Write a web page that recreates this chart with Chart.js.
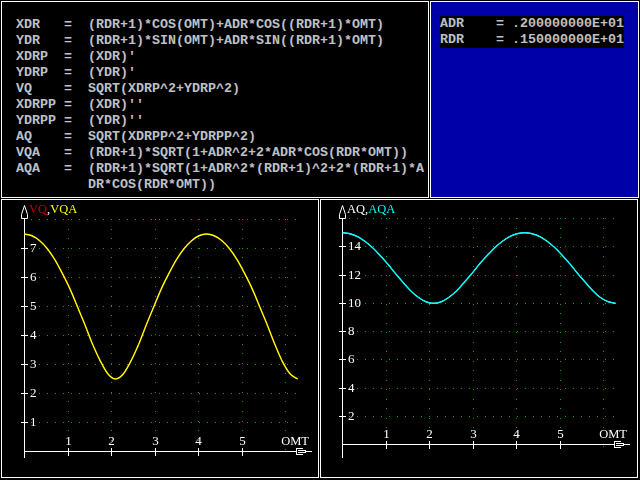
<!DOCTYPE html>
<html><head><meta charset="utf-8">
<script src="https://cdn.jsdelivr.net/npm/chart.js@4/dist/chart.umd.min.js"></script>
<style>
html,body{margin:0;padding:0;background:#000;width:640px;height:480px;overflow:hidden}
.box{position:absolute;box-sizing:border-box;border:1px solid #fff}
.txt{position:absolute;font:bold 13.333px "Liberation Mono",monospace;line-height:16px;color:#c0c0c0;white-space:pre;margin:0}
canvas{position:absolute;left:0;top:0}
</style></head><body>
<div class="box" style="left:1px;top:1px;width:428px;height:197px;background:#000"></div>
<div class="box" style="left:430px;top:1px;width:209px;height:197px;background:#0000a8"></div>
<div class="box" style="left:1px;top:199px;width:318px;height:279px;background:#000"></div>
<div class="box" style="left:320px;top:199px;width:318px;height:279px;background:#000"></div>
<pre class="txt" style="left:16px;top:17px">XDR   =  (RDR+1)*COS(OMT)+ADR*COS((RDR+1)*OMT)
YDR   =  (RDR+1)*SIN(OMT)+ADR*SIN((RDR+1)*OMT)
XDRP  =  (XDR)'
YDRP  =  (YDR)'
VQ    =  SQRT(XDRP^2+YDRP^2)
XDRPP =  (XDR)''
YDRPP =  (YDR)''
AQ    =  SQRT(XDRPP^2+YDRPP^2)
VQA   =  (RDR+1)*SQRT(1+ADR^2+2*ADR*COS(RDR*OMT))
AQA   =  (RDR+1)*SQRT(1+ADR^2*(RDR+1)^2+2*(RDR+1)*A
         DR*COS(RDR*OMT))</pre>
<pre class="txt" style="left:440px;top:16px;background:#000">ADR    = .200000000E+01
RDR    = .150000000E+01</pre>
<canvas id="cv" width="640" height="480"></canvas>
<canvas id="ca" width="640" height="480"></canvas>
<script>
// OMT sample positions (0 .. 2*pi)
const omt = [0, 0.17, 0.35, 0.52, 0.70, 0.87, 1.05, 1.22, 1.40, 1.57, 1.75, 1.92, 2.09, 2.27, 2.44, 2.62, 2.79, 2.97, 3.14,
             3.32, 3.49, 3.67, 3.84, 4.01, 4.19, 4.36, 4.54, 4.71, 4.89, 5.06, 5.24, 5.41, 5.59, 5.76, 5.93, 6.11, 6.28];
const vq  = [7.50, 7.44, 7.27, 7.00, 6.61, 6.14, 5.59, 4.98, 4.33, 3.68, 3.10, 2.67, 2.50, 2.67, 3.10, 3.68, 4.33, 4.98, 5.59,
             6.14, 6.61, 7.00, 7.27, 7.44, 7.50, 7.44, 7.27, 7.00, 6.61, 6.14, 5.59, 4.98, 4.33, 3.68, 3.10, 2.67, 2.50];
const vqa = [7.50, 7.44, 7.27, 7.00, 6.61, 6.14, 5.59, 4.98, 4.33, 3.68, 3.10, 2.67, 2.50, 2.67, 3.10, 3.68, 4.33, 4.98, 5.59,
             6.14, 6.61, 7.00, 7.27, 7.44, 7.50, 7.44, 7.27, 7.00, 6.61, 6.14, 5.59, 4.98, 4.33, 3.68, 3.10, 2.67, 2.50];
const aq  = [15.00, 14.93, 14.72, 14.38, 13.92, 13.37, 12.75, 12.10, 11.46, 10.88, 10.41, 10.11, 10.00, 10.11, 10.41, 10.88, 11.46, 12.10, 12.75,
             13.37, 13.92, 14.38, 14.72, 14.93, 15.00, 14.93, 14.72, 14.38, 13.92, 13.37, 12.75, 12.10, 11.46, 10.88, 10.41, 10.11, 10.00];
const aqa = [15.00, 14.93, 14.72, 14.38, 13.92, 13.37, 12.75, 12.10, 11.46, 10.88, 10.41, 10.11, 10.00, 10.11, 10.41, 10.88, 11.46, 12.10, 12.75,
             13.37, 13.92, 14.38, 14.72, 14.93, 15.00, 14.93, 14.72, 14.38, 13.92, 13.37, 12.75, 12.10, 11.46, 10.88, 10.41, 10.11, 10.00];
const xTicks = [1, 2, 3, 4, 5];
const xGrid = [1, 2, 3, 4, 5, 6];
const vTicks = [1, 2, 3, 4, 5, 6, 7];
const vGrid = [1, 2, 3, 4, 5, 6, 7, 8];
const aTicks = [2, 4, 6, 8, 10, 12, 14];
const aGrid = [2, 4, 6, 8, 10, 12, 14, 16];
const xName = 'OMT';

const axesPlugin = {
  id: 'oldAxes',
  beforeDatasetsDraw(chart, args, o) {
    const ctx = chart.ctx, xs = chart.scales.x, ys = chart.scales.y, ca = chart.chartArea;
    const X0 = Math.floor(xs.getPixelForValue(0)), Y0 = Math.floor(ys.getPixelForValue(0));
    ctx.save();
    // dotted green grid
    ctx.fillStyle = '#00a800';
    const xEnd = xs.getPixelForValue(omt[omt.length - 1]);
    const gTop = Math.floor(ys.getPixelForValue(o.yGrid[o.yGrid.length - 1]));
    o.yGrid.forEach(v => {
      const y = Math.floor(ys.getPixelForValue(v));
      for (let x = X0 + 7; x <= xEnd; x += o.dotX) ctx.fillRect(Math.round(x), y, 1, 1);
    });
    xGrid.forEach(u => {
      const x = Math.floor(xs.getPixelForValue(u));
      for (let y = gTop; y <= o.gridBottom; y += o.dotY) ctx.fillRect(x, Math.round(y), 1, 1);
    });
    // axes
    ctx.fillStyle = '#fff';
    ctx.strokeStyle = '#fff';
    ctx.lineWidth = 1;
    const top = Math.round(ca.top);
    const base = top + 13;
    ctx.beginPath();
    ctx.moveTo(X0 + 0.5, top + 0.5);
    ctx.lineTo(X0 + 3.5, base - 3.5);
    ctx.lineTo(X0 + 3.5, base + 0.5);
    ctx.lineTo(X0 - 2.5, base + 0.5);
    ctx.lineTo(X0 - 2.5, base - 3.5);
    ctx.closePath();
    ctx.stroke();
    ctx.fillRect(X0, base, 1, o.yAxisBottom - base);
    const R = Math.round(ca.right);
    const tail = R - 11;
    ctx.fillRect(X0, Y0, tail - X0, 1);
    // x arrow: [=-
    ctx.fillRect(tail, Y0 - 3, 1, 7);
    ctx.fillRect(tail, Y0 - 3, 7, 1);
    ctx.fillRect(tail, Y0 + 3, 7, 1);
    ctx.fillRect(tail + 2, Y0 - 1, 8, 1);
    ctx.fillRect(tail + 2, Y0 + 1, 8, 1);
    ctx.fillRect(tail + 9, Y0, R + 5 - (tail + 9), 1);
    // ticks
    o.yTicks.forEach(v => { const y = Math.floor(ys.getPixelForValue(v)); ctx.fillRect(X0 - 3, y, 7, 1); });
    xTicks.forEach(u => { const x = Math.floor(xs.getPixelForValue(u)); ctx.fillRect(x, Y0 - 3, 1, 8); });
    // tick labels
    ctx.font = '13px "Liberation Serif"';
    ctx.textAlign = 'left'; ctx.textBaseline = 'middle';
    o.yTicks.forEach(v => ctx.fillText(String(v), X0 + 6, Math.floor(ys.getPixelForValue(v)) + 1));
    ctx.textAlign = 'center'; ctx.textBaseline = 'alphabetic';
    xTicks.forEach(u => ctx.fillText(String(u), Math.floor(xs.getPixelForValue(u)) + 0.5, Y0 - 6));
    ctx.font = '12.5px "Liberation Serif"';
    ctx.textAlign = 'right';
    ctx.fillText(xName, R + 2, Y0 - 6);
    // title in coloured parts
    ctx.textAlign = 'left';
    let tx = X0 + 5;
    o.title.forEach(p => { ctx.fillStyle = p.c; ctx.fillText(p.t, tx, top + 8); tx += ctx.measureText(p.t).width; });
    ctx.restore();
  }
};

function build(id, cfg) {
  return new Chart(document.getElementById(id), {
    type: 'line',
    data: {
      datasets: cfg.series.map(s => ({
        data: omt.map((x, i) => ({ x: x, y: s.values[i] })),
        borderColor: s.color, borderWidth: s.width, pointRadius: 0, order: s.order,
        cubicInterpolationMode: 'monotone', fill: false, clip: false
      }))
    },
    options: {
      responsive: false, animation: false, devicePixelRatio: 1, events: [],
      layout: { padding: cfg.padding },
      scales: {
        x: { type: 'linear', min: 0, max: 6.5, display: false },
        y: { type: 'linear', min: 0, max: cfg.yMax, display: false }
      },
      plugins: {
        legend: { display: false }, tooltip: { enabled: false },
        oldAxes: cfg.axes
      }
    },
    plugins: [axesPlugin]
  });
}

build('cv', {
  padding: { left: 24.5, right: 332.75, top: 205, bottom: 28.5 },
  yMax: 8.5,
  series: [{ values: vq, color: '#c00000', width: 1, order: 2 }, { values: vqa, color: '#ffff00', width: 1.4, order: 1 }],
  axes: { yGrid: vGrid, yTicks: vTicks, dotX: 8, dotY: 9.6, gridBottom: 451, yAxisBottom: 458,
          title: [{ t: 'VQ', c: '#c00000' }, { t: ',', c: '#ffffff' }, { t: 'VQA', c: '#ffff00' }] }
});
build('ca', {
  padding: { left: 342.5, right: 14.75, top: 204.5, bottom: 35.5 },
  yMax: 17,
  series: [{ values: aq, color: '#ffffff', width: 1, order: 2 }, { values: aqa, color: '#00ffff', width: 1.4, order: 1 }],
  axes: { yGrid: aGrid, yTicks: aTicks, dotX: 8, dotY: 9.5, gridBottom: 452, yAxisBottom: 458,
          title: [{ t: 'AQ', c: '#ffffff' }, { t: ',', c: '#ffffff' }, { t: 'AQA', c: '#00ffff' }] }
});
</script>
</body></html>
